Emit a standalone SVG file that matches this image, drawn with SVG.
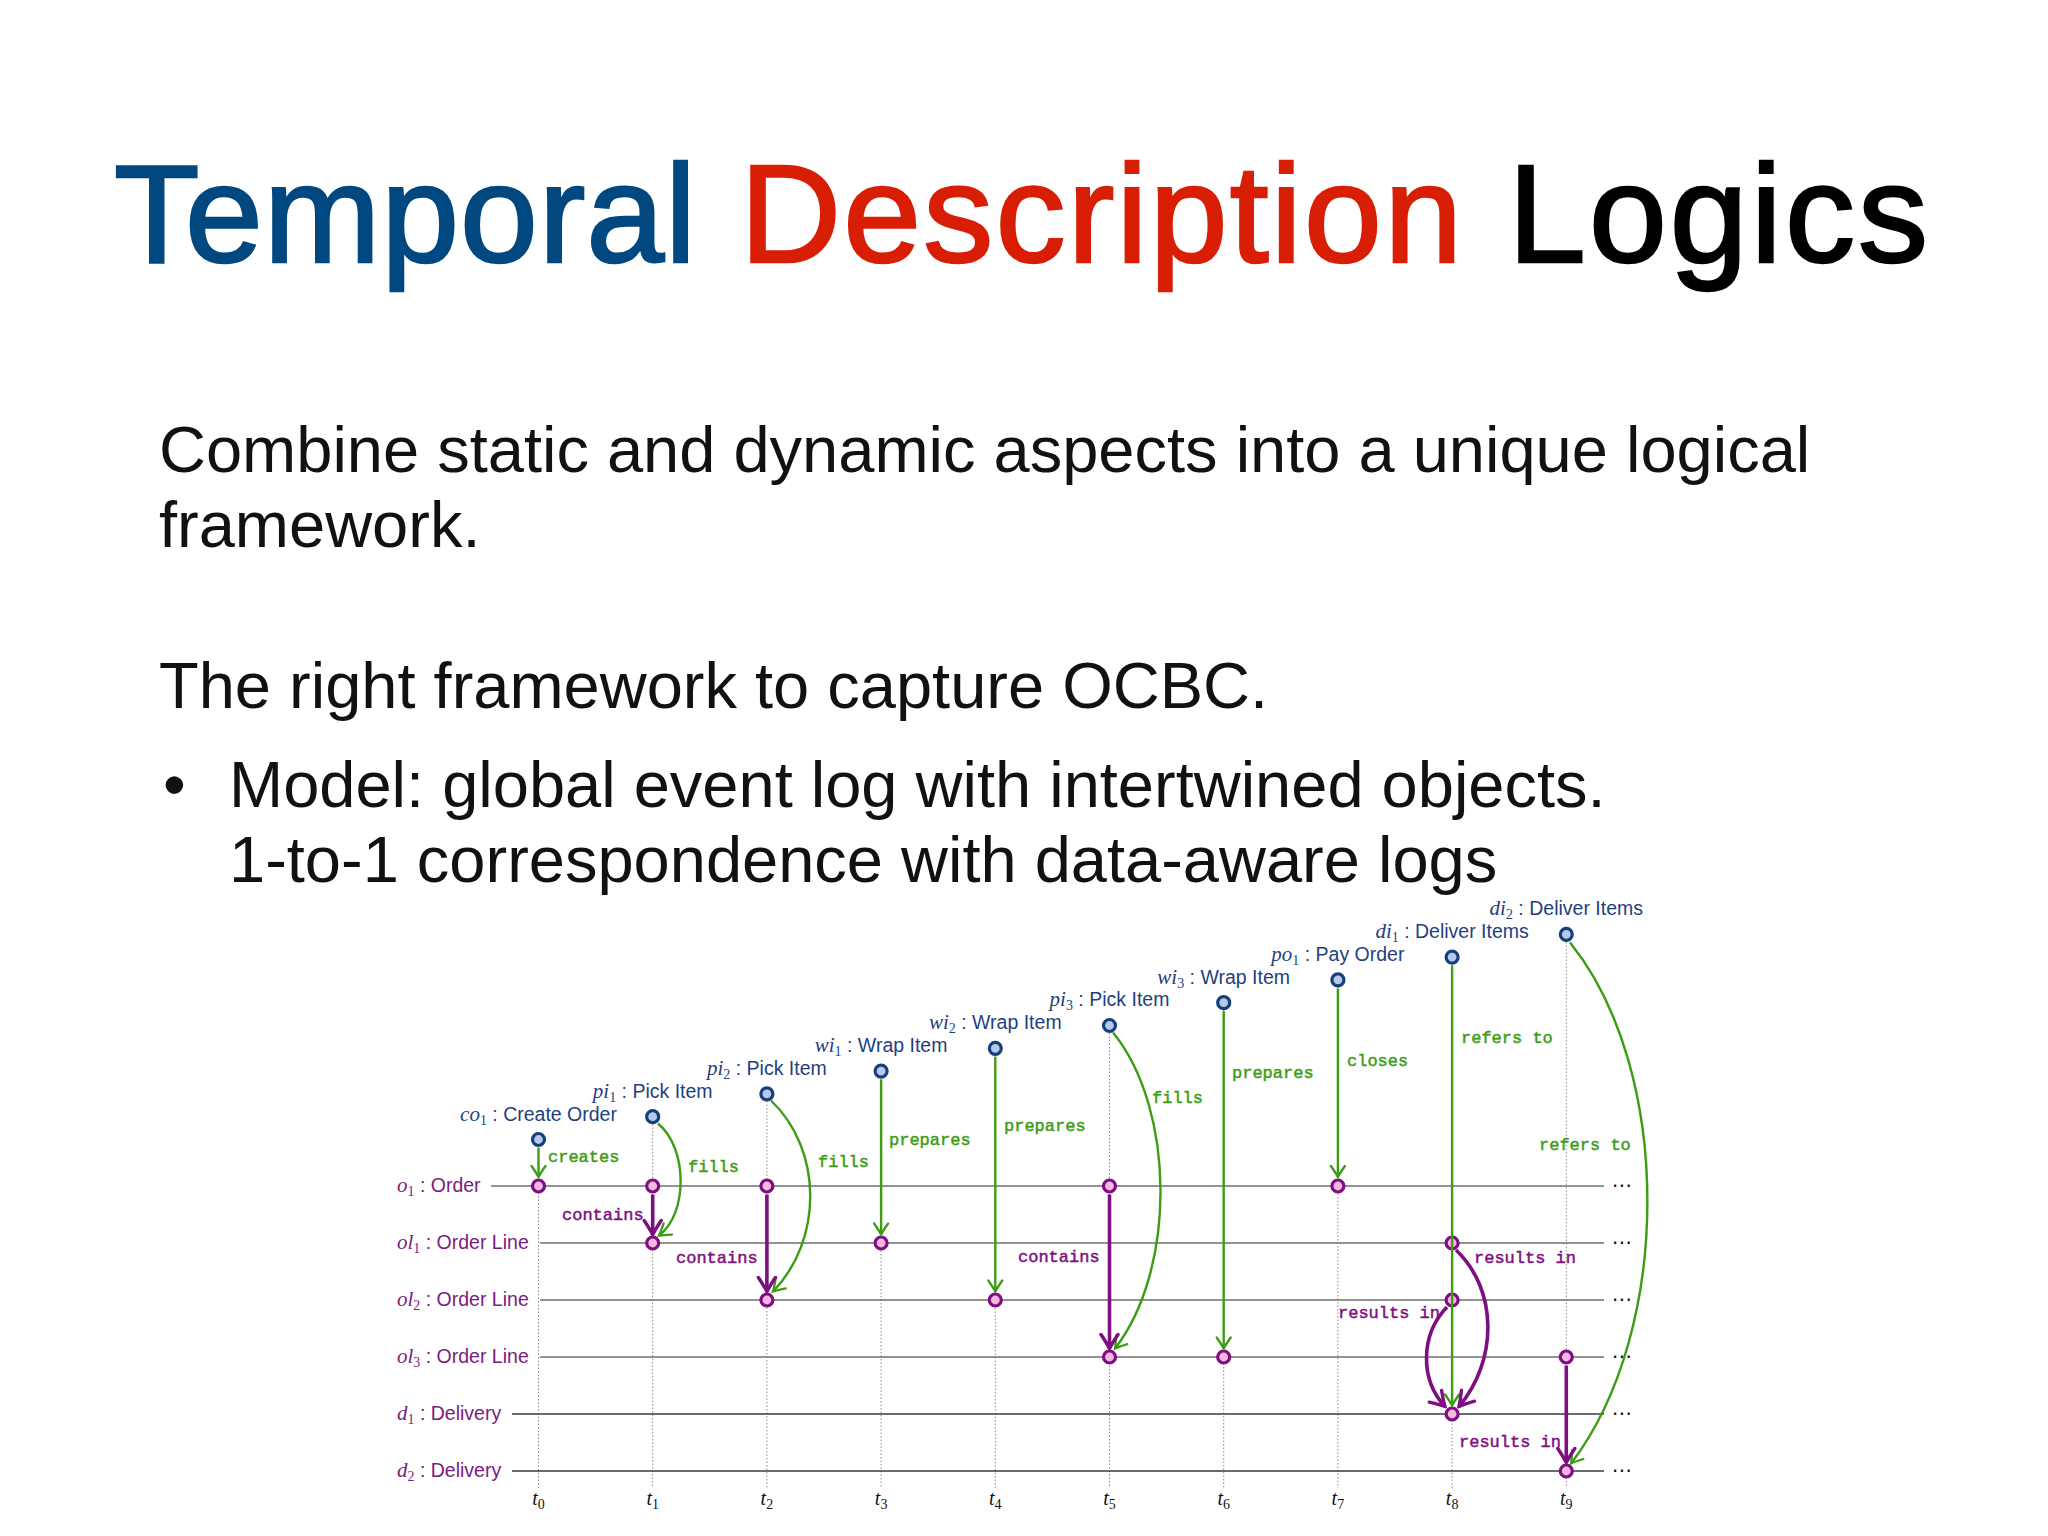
<svg xmlns="http://www.w3.org/2000/svg" width="2048" height="1536" viewBox="0 0 2048 1536">
<style>
.ttl{font-family:"Liberation Sans",Arial,sans-serif;font-size:140px;stroke-width:2.5;}
.body{font-family:"Liberation Sans",Arial,sans-serif;font-size:65px;fill:#111;}
.ev circle{fill:#b5c9e8;stroke:#173f7c;stroke-width:3.2;}
.ob circle{fill:#f5b6df;stroke:#7e0f80;stroke-width:3.2;}
.el{font-family:"Liberation Sans",Arial,sans-serif;font-size:19.5px;fill:#1f3f7f;}
.olb{font-family:"Liberation Sans",Arial,sans-serif;font-size:19.5px;fill:#7a1c80;}
.m{font-family:"Liberation Serif","Times New Roman",serif;font-style:italic;font-size:21px;}
.s{font-family:"Liberation Serif","Times New Roman",serif;font-style:normal;font-size:14px;}
.life{stroke:#6e6e6e;stroke-width:1.6;}
.life2{stroke:#3a3a3a;stroke-width:1.4;}
.dot{stroke:#8a8a8a;stroke-width:1;stroke-dasharray:1.5 2;}
.g{fill:none;stroke:#3c9c14;stroke-width:2.4;marker-end:url(#ag);}
.p{fill:none;stroke:#7e0f80;stroke-width:3.6;marker-end:url(#ap);}
.gl{font-family:"Liberation Mono","Courier New",monospace;font-size:17px;fill:#3c9c14;stroke:#3c9c14;stroke-width:0.45;}
.pl{font-family:"Liberation Mono","Courier New",monospace;font-size:17px;fill:#7e0f80;stroke:#7e0f80;stroke-width:0.45;}
.tl{font-family:"Liberation Serif","Times New Roman",serif;font-size:20px;fill:#111;}
.dots{font-family:"DejaVu Sans",sans-serif;font-size:20px;fill:#111;}
</style>
<defs>
<marker id="ag" viewBox="-13 -9 15 18" refX="0" refY="0" markerWidth="15" markerHeight="18" markerUnits="userSpaceOnUse" orient="auto">
<path d="M-11,-7 Q-3,-1.5 0,0 Q-3,1.5 -11,7" fill="none" stroke="#3c9c14" stroke-width="2.3" stroke-linecap="round"/>
</marker>
<marker id="ap" viewBox="-16 -11 18 22" refX="0" refY="0" markerWidth="18" markerHeight="22" markerUnits="userSpaceOnUse" orient="auto">
<path d="M-14,-8.5 Q-4,-2 0,0 Q-4,2 -14,8.5" fill="none" stroke="#7e0f80" stroke-width="3.4" stroke-linecap="round"/>
</marker>
</defs>
<rect width="2048" height="1536" fill="#ffffff"/>

<g id="title">
<text class="ttl" x="114" y="262" textLength="582" fill="#00487f" stroke="#00487f">Temporal</text>
<text class="ttl" x="740" y="262" textLength="722" fill="#d81e05" stroke="#d81e05">Description</text>
<text class="ttl" x="1508" y="262" textLength="420" fill="#000" stroke="#000">Logics</text>
</g>

<g id="body">
<text class="body" x="159" y="472">Combine static and dynamic aspects into a unique logical</text>
<text class="body" x="159" y="547">framework.</text>
<text class="body" x="159" y="708">The right framework to capture OCBC.</text>
<text class="body" x="163" y="807">•</text>
<text class="body" x="229" y="807">Model: global event log with intertwined objects.</text>
<text class="body" x="229" y="882">1-to-1 correspondence with data-aware logs</text>
</g>

<g id="timeline">
<line class="dot" x1="538.5" y1="1147" x2="538.5" y2="1488"/>
<line class="dot" x1="652.7" y1="1124" x2="652.7" y2="1488"/>
<line class="dot" x1="766.9" y1="1101" x2="766.9" y2="1488"/>
<line class="dot" x1="881.1" y1="1079" x2="881.1" y2="1488"/>
<line class="dot" x1="995.3" y1="1056" x2="995.3" y2="1488"/>
<line class="dot" x1="1109.5" y1="1033" x2="1109.5" y2="1488"/>
<line class="dot" x1="1223.7" y1="1010" x2="1223.7" y2="1488"/>
<line class="dot" x1="1337.9" y1="987" x2="1337.9" y2="1488"/>
<line class="dot" x1="1452.1" y1="965" x2="1452.1" y2="1488"/>
<line class="dot" x1="1566.3" y1="942" x2="1566.3" y2="1488"/>
<text class="tl" x="538.5" y="1505" text-anchor="middle"><tspan font-style="italic">t</tspan><tspan class="s" dy="4">0</tspan></text>
<text class="tl" x="652.7" y="1505" text-anchor="middle"><tspan font-style="italic">t</tspan><tspan class="s" dy="4">1</tspan></text>
<text class="tl" x="766.9" y="1505" text-anchor="middle"><tspan font-style="italic">t</tspan><tspan class="s" dy="4">2</tspan></text>
<text class="tl" x="881.1" y="1505" text-anchor="middle"><tspan font-style="italic">t</tspan><tspan class="s" dy="4">3</tspan></text>
<text class="tl" x="995.3" y="1505" text-anchor="middle"><tspan font-style="italic">t</tspan><tspan class="s" dy="4">4</tspan></text>
<text class="tl" x="1109.5" y="1505" text-anchor="middle"><tspan font-style="italic">t</tspan><tspan class="s" dy="4">5</tspan></text>
<text class="tl" x="1223.7" y="1505" text-anchor="middle"><tspan font-style="italic">t</tspan><tspan class="s" dy="4">6</tspan></text>
<text class="tl" x="1337.9" y="1505" text-anchor="middle"><tspan font-style="italic">t</tspan><tspan class="s" dy="4">7</tspan></text>
<text class="tl" x="1452.1" y="1505" text-anchor="middle"><tspan font-style="italic">t</tspan><tspan class="s" dy="4">8</tspan></text>
<text class="tl" x="1566.3" y="1505" text-anchor="middle"><tspan font-style="italic">t</tspan><tspan class="s" dy="4">9</tspan></text>
</g>

<g id="lifelines">
<g id="life-o1"><text class="olb" x="397" y="1192"><tspan class="m">o</tspan><tspan class="s" dy="4">1</tspan><tspan dy="-4"> : Order</tspan></text><line class="life" x1="491" y1="1186" x2="1604" y2="1186"/><text class="dots" x="1622" y="1192" text-anchor="middle">⋯</text></g>
<g id="life-ol1"><text class="olb" x="397" y="1249"><tspan class="m">ol</tspan><tspan class="s" dy="4">1</tspan><tspan dy="-4"> : Order Line</tspan></text><line class="life" x1="540" y1="1243" x2="1604" y2="1243"/><text class="dots" x="1622" y="1249" text-anchor="middle">⋯</text></g>
<g id="life-ol2"><text class="olb" x="397" y="1306"><tspan class="m">ol</tspan><tspan class="s" dy="4">2</tspan><tspan dy="-4"> : Order Line</tspan></text><line class="life" x1="540" y1="1300" x2="1604" y2="1300"/><text class="dots" x="1622" y="1306" text-anchor="middle">⋯</text></g>
<g id="life-ol3"><text class="olb" x="397" y="1363"><tspan class="m">ol</tspan><tspan class="s" dy="4">3</tspan><tspan dy="-4"> : Order Line</tspan></text><line class="life" x1="540" y1="1357" x2="1604" y2="1357"/><text class="dots" x="1622" y="1363" text-anchor="middle">⋯</text></g>
<g id="life-d1"><text class="olb" x="397" y="1420"><tspan class="m">d</tspan><tspan class="s" dy="4">1</tspan><tspan dy="-4"> : Delivery</tspan></text><line class="life2" x1="512" y1="1414" x2="1604" y2="1414"/><text class="dots" x="1622" y="1420" text-anchor="middle">⋯</text></g>
<g id="life-d2"><text class="olb" x="397" y="1477"><tspan class="m">d</tspan><tspan class="s" dy="4">2</tspan><tspan dy="-4"> : Delivery</tspan></text><line class="life2" x1="512" y1="1471" x2="1604" y2="1471"/><text class="dots" x="1622" y="1477" text-anchor="middle">⋯</text></g>
</g>

<g id="events">
<g id="co1" class="ev"><circle cx="538.5" cy="1139.5" r="6"/><text class="el" x="538.5" y="1121" text-anchor="middle"><tspan class="m">co</tspan><tspan class="s" dy="4">1</tspan><tspan dy="-4"> : Create Order</tspan></text></g>
<g id="pi1" class="ev"><circle cx="652.7" cy="1116.7" r="6"/><text class="el" x="652.7" y="1098" text-anchor="middle"><tspan class="m">pi</tspan><tspan class="s" dy="4">1</tspan><tspan dy="-4"> : Pick Item</tspan></text></g>
<g id="pi2" class="ev"><circle cx="766.9" cy="1093.9" r="6"/><text class="el" x="766.9" y="1075" text-anchor="middle"><tspan class="m">pi</tspan><tspan class="s" dy="4">2</tspan><tspan dy="-4"> : Pick Item</tspan></text></g>
<g id="wi1" class="ev"><circle cx="881.1" cy="1071.1" r="6"/><text class="el" x="881.1" y="1052" text-anchor="middle"><tspan class="m">wi</tspan><tspan class="s" dy="4">1</tspan><tspan dy="-4"> : Wrap Item</tspan></text></g>
<g id="wi2" class="ev"><circle cx="995.3" cy="1048.3" r="6"/><text class="el" x="995.3" y="1029" text-anchor="middle"><tspan class="m">wi</tspan><tspan class="s" dy="4">2</tspan><tspan dy="-4"> : Wrap Item</tspan></text></g>
<g id="pi3" class="ev"><circle cx="1109.5" cy="1025.5" r="6"/><text class="el" x="1109.5" y="1006" text-anchor="middle"><tspan class="m">pi</tspan><tspan class="s" dy="4">3</tspan><tspan dy="-4"> : Pick Item</tspan></text></g>
<g id="wi3" class="ev"><circle cx="1223.7" cy="1002.7" r="6"/><text class="el" x="1223.7" y="984" text-anchor="middle"><tspan class="m">wi</tspan><tspan class="s" dy="4">3</tspan><tspan dy="-4"> : Wrap Item</tspan></text></g>
<g id="po1" class="ev"><circle cx="1337.9" cy="979.9" r="6"/><text class="el" x="1337.9" y="961" text-anchor="middle"><tspan class="m">po</tspan><tspan class="s" dy="4">1</tspan><tspan dy="-4"> : Pay Order</tspan></text></g>
<g id="di1" class="ev"><circle cx="1452.1" cy="957.1" r="6"/><text class="el" x="1452.1" y="938" text-anchor="middle"><tspan class="m">di</tspan><tspan class="s" dy="4">1</tspan><tspan dy="-4"> : Deliver Items</tspan></text></g>
<g id="di2" class="ev"><circle cx="1566.3" cy="934.3" r="6"/><text class="el" x="1566.3" y="915" text-anchor="middle"><tspan class="m">di</tspan><tspan class="s" dy="4">2</tspan><tspan dy="-4"> : Deliver Items</tspan></text></g>
</g>

<g id="objects">
<g id="o1-t0" class="ob"><circle cx="538.5" cy="1186" r="6"/></g>
<g id="o1-t1" class="ob"><circle cx="652.7" cy="1186" r="6"/></g>
<g id="o1-t2" class="ob"><circle cx="766.9" cy="1186" r="6"/></g>
<g id="o1-t5" class="ob"><circle cx="1109.5" cy="1186" r="6"/></g>
<g id="o1-t7" class="ob"><circle cx="1337.9" cy="1186" r="6"/></g>
<g id="ol1-t1" class="ob"><circle cx="652.7" cy="1243" r="6"/></g>
<g id="ol1-t3" class="ob"><circle cx="881.1" cy="1243" r="6"/></g>
<g id="ol1-t8" class="ob"><circle cx="1452.1" cy="1243" r="6"/></g>
<g id="ol2-t2" class="ob"><circle cx="766.9" cy="1300" r="6"/></g>
<g id="ol2-t4" class="ob"><circle cx="995.3" cy="1300" r="6"/></g>
<g id="ol2-t8" class="ob"><circle cx="1452.1" cy="1300" r="6"/></g>
<g id="ol3-t5" class="ob"><circle cx="1109.5" cy="1357" r="6"/></g>
<g id="ol3-t6" class="ob"><circle cx="1223.7" cy="1357" r="6"/></g>
<g id="ol3-t9" class="ob"><circle cx="1566.3" cy="1357" r="6"/></g>
<g id="d1-t8" class="ob"><circle cx="1452.1" cy="1414" r="6"/></g>
<g id="d2-t9" class="ob"><circle cx="1566.3" cy="1471" r="6"/></g>
</g>

<g id="connectors">
<path class="g" d="M538.5,1148 L538.5,1177"/>
<path class="g" d="M658,1123.5 C688,1148 688,1214 659,1235.5"/>
<path class="g" d="M771,1100.5 C823,1150 823,1240 773,1291.5"/>
<path class="g" d="M881.1,1079.5 L881.1,1234.5"/>
<path class="g" d="M995.3,1057 L995.3,1291.5"/>
<path class="g" d="M1113,1032.5 C1176,1110 1176,1270 1115,1348.5"/>
<path class="g" d="M1223.7,1011 L1223.7,1348.5"/>
<path class="g" d="M1337.9,988.5 L1337.9,1177"/>
<path class="g" d="M1452.1,965.5 L1452.1,1405.5"/>
<path class="g" d="M1570,942.5 C1673,1070 1673,1330 1571,1463.5"/>
<path class="p" d="M652.7,1194.5 L652.7,1234.5"/>
<path class="p" d="M766.9,1194.5 L766.9,1291.5"/>
<path class="p" d="M1109.5,1194.5 L1109.5,1348.5"/>
<path class="p" d="M1456,1250 C1498,1290 1498,1360 1459,1406.5"/>
<path class="p" d="M1447,1307 C1420,1335 1420,1380 1445,1406.5"/>
<path class="p" d="M1566.3,1365.5 L1566.3,1462.5"/>
<text class="gl" x="548" y="1162">creates</text>
<text class="gl" x="688" y="1172">fills</text>
<text class="gl" x="818" y="1167">fills</text>
<text class="gl" x="889" y="1145">prepares</text>
<text class="gl" x="1004" y="1131">prepares</text>
<text class="gl" x="1152" y="1103">fills</text>
<text class="gl" x="1232" y="1078">prepares</text>
<text class="gl" x="1347" y="1066">closes</text>
<text class="gl" x="1461" y="1043">refers to</text>
<text class="gl" x="1539" y="1150">refers to</text>
<text class="pl" x="562" y="1220">contains</text>
<text class="pl" x="676" y="1263">contains</text>
<text class="pl" x="1018" y="1262">contains</text>
<text class="pl" x="1474" y="1263">results in</text>
<text class="pl" x="1338" y="1318">results in</text>
<text class="pl" x="1459" y="1447">results in</text>
</g>
</svg>
